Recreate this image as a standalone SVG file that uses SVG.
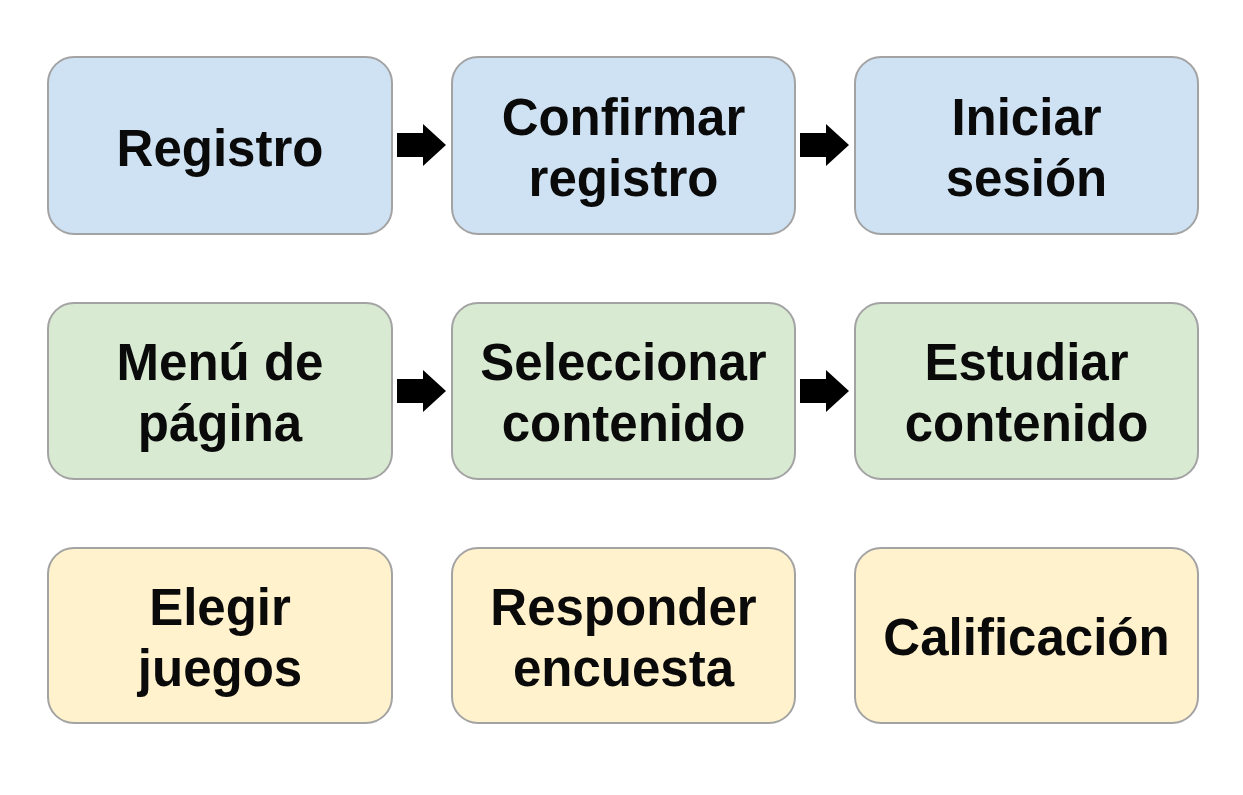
<svg xmlns="http://www.w3.org/2000/svg" width="1243" height="795" viewBox="0 0 1243 795">
<style>
.box{stroke:#a3a3a3;stroke-width:2}
.blue{fill:#cfe2f3}
.green{fill:#d9ead3}
.yellow{fill:#fff2cc}
text{font-family:"Liberation Sans",Arial,sans-serif;font-weight:bold;font-size:51px;fill:#0a0a0a;text-anchor:middle}
.arrow{fill:#000}
</style>
<defs>
<polygon id="blk" points="0,-12 26,-12 26,-21 49,0 26,21 26,12 0,12"/>
</defs>
<rect width="1243" height="795" fill="#fff"/>
<g id="n-registro"><rect class="box blue" x="48" y="57" width="344" height="177" rx="26"/><text x="220" y="166">Registro</text></g>
<g id="n-confirmar"><rect class="box blue" x="452" y="57" width="343" height="177" rx="26"/><text x="623.5" y="135">Confirmar</text><text x="623.5" y="196">registro</text></g>
<g id="n-iniciar"><rect class="box blue" x="855" y="57" width="343" height="177" rx="26"/><text x="1026.5" y="135">Iniciar</text><text x="1026.5" y="196">sesión</text></g>
<g id="n-menu"><rect class="box green" x="48" y="303" width="344" height="176" rx="26"/><text x="220" y="380">Menú de</text><text x="220" y="441">página</text></g>
<g id="n-seleccionar"><rect class="box green" x="452" y="303" width="343" height="176" rx="26"/><text x="623.5" y="380">Seleccionar</text><text x="623.5" y="441">contenido</text></g>
<g id="n-estudiar"><rect class="box green" x="855" y="303" width="343" height="176" rx="26"/><text x="1026.5" y="380">Estudiar</text><text x="1026.5" y="441">contenido</text></g>
<g id="n-elegir"><rect class="box yellow" x="48" y="548" width="344" height="175" rx="26"/><text x="220" y="625">Elegir</text><text x="220" y="686">juegos</text></g>
<g id="n-responder"><rect class="box yellow" x="452" y="548" width="343" height="175" rx="26"/><text x="623.5" y="625">Responder</text><text x="623.5" y="686">encuesta</text></g>
<g id="n-calificacion"><rect class="box yellow" x="855" y="548" width="343" height="175" rx="26"/><text x="1026.5" y="655">Calificación</text></g>
<g id="connectors" class="arrow">
<use href="#blk" x="397" y="145"/>
<use href="#blk" x="800" y="145"/>
<use href="#blk" x="397" y="391"/>
<use href="#blk" x="800" y="391"/>
</g>
</svg>
